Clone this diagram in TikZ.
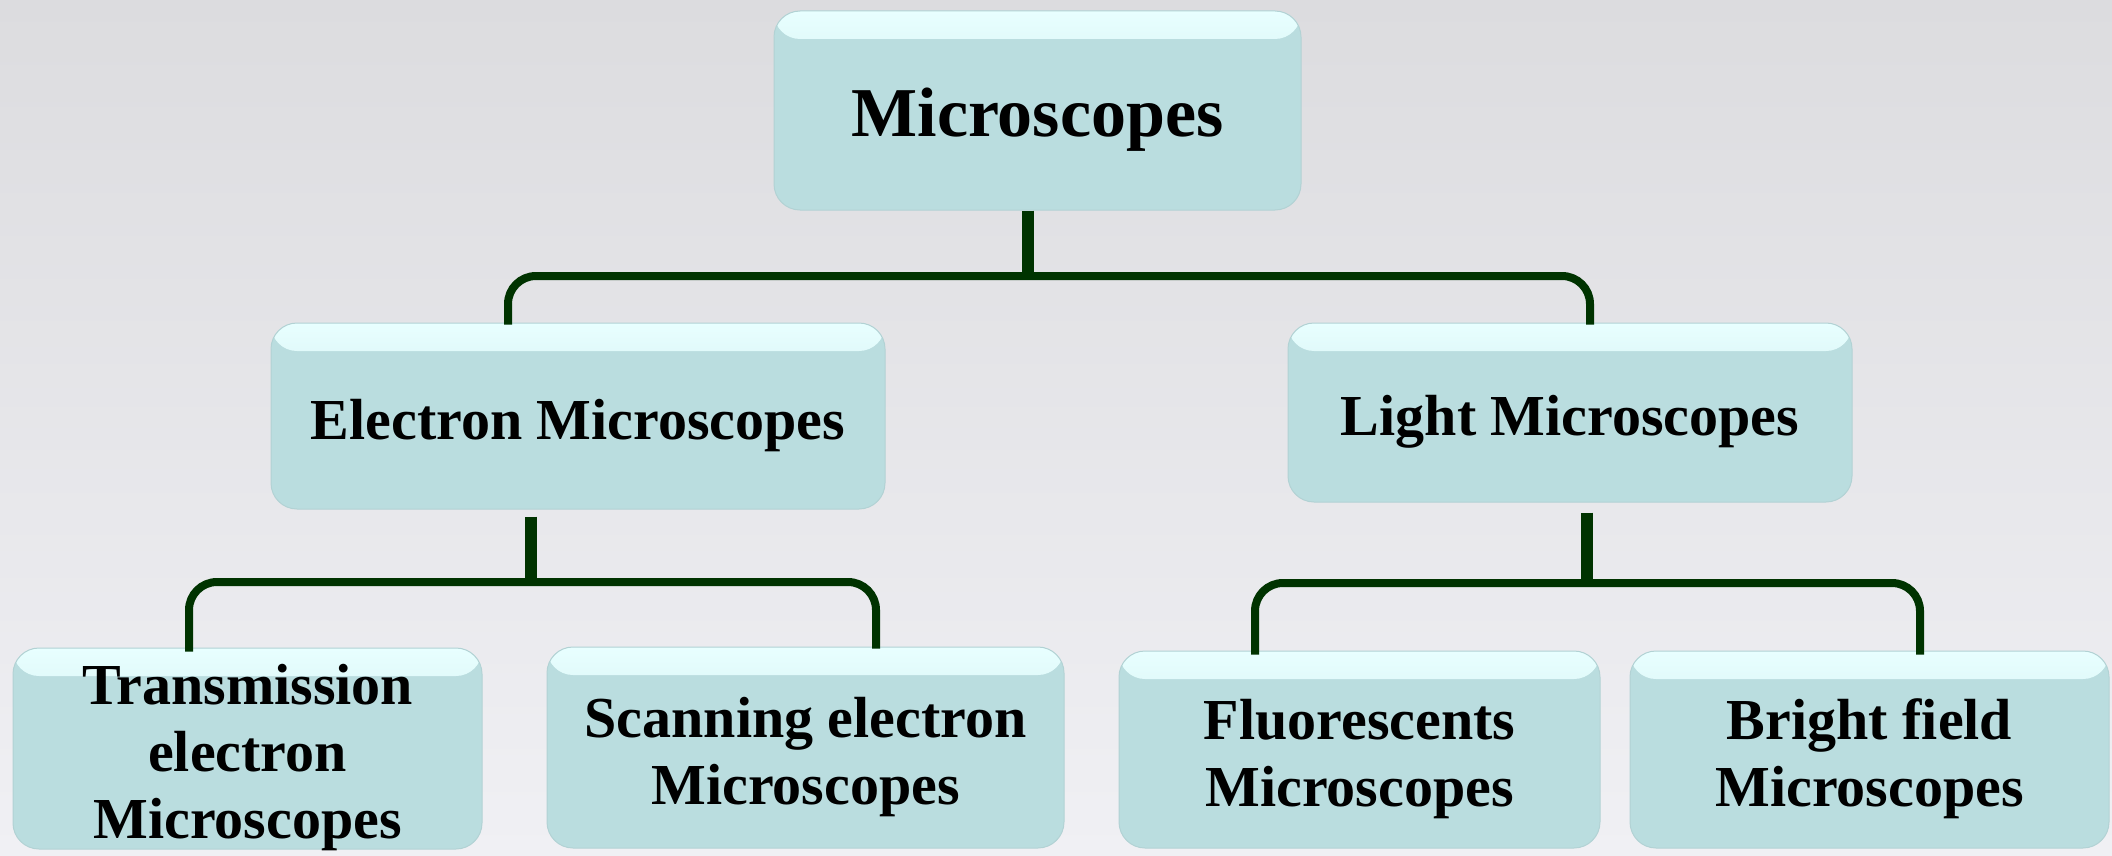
\documentclass[tikz,border=0pt]{standalone}
\usepackage{fontspec}
\setmainfont{Liberation Serif}
\definecolor{boxc}{RGB}{186,221,223}
\definecolor{boxhi}{RGB}{232,255,255}
\definecolor{boxedge}{RGB}{178,210,212}
\definecolor{bgtop}{RGB}{220,220,223}
\definecolor{bgbot}{RGB}{240,240,244}
\definecolor{linec}{RGB}{0,51,0}
\newcommand\boxtext[1]{\raisebox{-10pt}[\height][\depth]{\begin{tabular}{@{}c@{}}#1\end{tabular}}}
\tikzset{
  mbox/.style={rounded corners=26pt, fill=boxc, draw=boxedge, line width=1pt,
    inner sep=0pt, text=black,
    font=\bfseries\fontsize{58}{67}\selectfont,
    path picture={\shade[top color=boxhi, bottom color=boxc]
      (path picture bounding box.north west) rectangle ([yshift=-28pt]path picture bounding box.north east);}},
  topbox/.style={mbox, font=\bfseries\fontsize{70}{78}\selectfont},
  stem/.style={draw=linec, line width=12pt},
  bar/.style={draw=linec, line width=8pt, rounded corners=28pt},
}
\begin{document}
\begin{tikzpicture}[x=1pt,y=-1pt]
\useasboundingbox (0,0) rectangle (2112,856);
\shade[top color=bgtop, bottom color=bgbot] (0,0) rectangle (2112,856);

\node[topbox, minimum width=527pt, minimum height=199pt] (top) at (1037.5,110.5) {\boxtext{Microscopes}};
\node[mbox, minimum width=614pt, minimum height=186pt] (elec) at (578,416) {\boxtext{Electron Microscopes}};
\node[mbox, minimum width=564pt, minimum height=179pt] (light) at (1570,412.5) {\boxtext{Light Microscopes}};
\node[mbox, minimum width=469pt, minimum height=199pt] (tem) at (247.5,748.5) {\boxtext{Transmission\\electron\\Microscopes}};
\node[mbox, minimum width=517pt, minimum height=201pt] (sem) at (805.5,747.5) {\boxtext{Scanning electron\\Microscopes}};
\node[mbox, minimum width=481pt, minimum height=197pt] (flu) at (1359.5,749.5) {\boxtext{Fluorescents\\Microscopes}};
\node[mbox, minimum width=479pt, minimum height=197pt] (bri) at (1869.5,749.5) {\boxtext{Bright field\\Microscopes}};

% level 1
\coordinate (j1) at (1028,276);
\coordinate (d1) at (508,0);
\coordinate (d2) at (1590,0);
\draw[stem] (j1 |- top.south) -- ([yshift=4pt]j1);
\draw[bar] ([yshift=-2pt]d1 |- elec.north) |- (j1) -| ([yshift=-2pt]d2 |- light.north);

% electron
\coordinate (j2) at (531,582);
\coordinate (d3) at (189,0);
\coordinate (d4) at (876,0);
\draw[stem] ([yshift=-7pt]j2 |- elec.south) -- ([yshift=4pt]j2);
\draw[bar] ([yshift=-4pt]d3 |- tem.north) |- (j2) -| ([yshift=-2pt]d4 |- sem.north);

% light
\coordinate (j3) at (1587,583);
\coordinate (d5) at (1255,0);
\coordinate (d6) at (1920,0);
\draw[stem] ([yshift=-10pt]j3 |- light.south) -- ([yshift=4pt]j3);
\draw[bar] ([yshift=-4pt]d5 |- flu.north) |- (j3) -| ([yshift=-4pt]d6 |- bri.north);
\end{tikzpicture}
\end{document}
